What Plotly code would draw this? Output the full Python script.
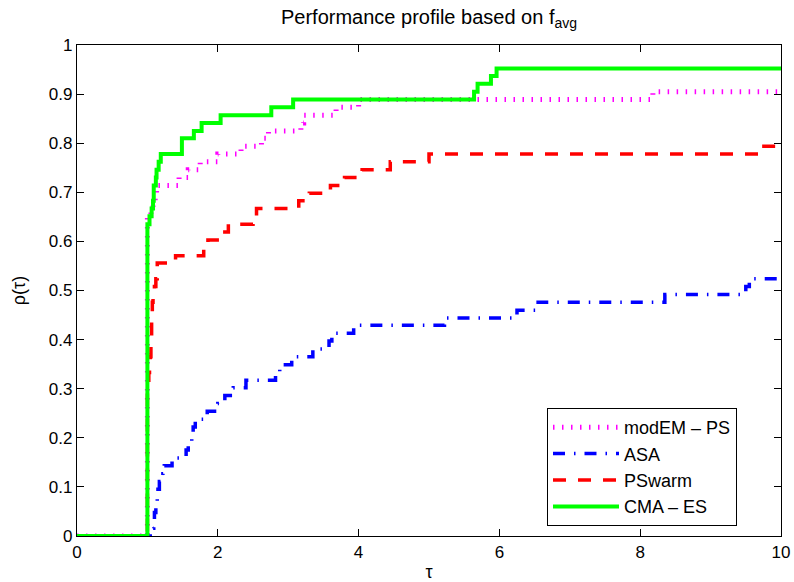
import plotly.graph_objects as go

# ---- data (tau, rho step points) ----
modem_tau = [0, 1.00, 1.05, 1.08, 1.11, 1.13, 1.45, 1.58, 1.75, 2.00, 2.33, 2.62, 2.72,
             3.18, 3.22, 3.68, 4.00, 8.18, 10]
modem_rho = [0, 0.651, 0.667, 0.683, 0.698, 0.714, 0.730, 0.746, 0.762, 0.778, 0.794,
             0.810, 0.825, 0.841, 0.857, 0.873, 0.889, 0.905, 0.905]

asa_tau = [0, 1.04, 1.09, 1.10, 1.12, 1.14, 1.15, 1.17, 1.22, 1.24, 1.35, 1.55, 1.58, 1.63,
           1.65, 1.68, 1.85, 2.00, 2.10, 2.22, 2.40, 2.82, 2.88, 3.05, 3.35, 3.58, 3.62,
           3.93, 5.22, 6.25, 6.55, 8.35, 9.50, 9.55, 10]
asa_rho = [0, 0.016, 0.032, 0.048, 0.063, 0.079, 0.095, 0.111, 0.127, 0.143, 0.159, 0.175,
           0.190, 0.206, 0.222, 0.238, 0.254, 0.270, 0.286, 0.302, 0.317, 0.333, 0.349,
           0.365, 0.381, 0.397, 0.413, 0.429, 0.444, 0.460, 0.476, 0.492, 0.508, 0.524, 0.524]

psw_tau = [0, 1.00, 1.01, 1.02, 1.03, 1.04, 1.05, 1.06, 1.07, 1.08, 1.10, 1.12, 1.14, 1.40,
           1.80, 1.86, 2.10, 2.15, 2.50, 2.55, 3.15, 3.30, 3.60, 3.80, 4.05, 4.45, 5.00,
           9.70, 10]
psw_rho = [0, 0.302, 0.317, 0.333, 0.349, 0.365, 0.397, 0.444, 0.476, 0.492, 0.508, 0.524,
           0.556, 0.571, 0.587, 0.603, 0.619, 0.635, 0.651, 0.667, 0.683, 0.698, 0.714,
           0.730, 0.746, 0.762, 0.778, 0.794, 0.794]

cma_tau = [0, 1.00, 1.03, 1.06, 1.08, 1.09, 1.12, 1.13, 1.16, 1.19, 1.49, 1.66, 1.77, 2.04,
           2.76, 3.07, 5.64, 5.69, 5.88, 5.96, 10]
cma_rho = [0, 0.635, 0.651, 0.667, 0.683, 0.714, 0.730, 0.746, 0.762, 0.778, 0.810, 0.825,
           0.841, 0.857, 0.873, 0.889, 0.905, 0.921, 0.937, 0.952, 0.952]

names = ["modEM \u2013 PS", "ASA", "PSwarm", "CMA \u2013 ES"]
x_ticks = [0, 2, 4, 6, 8, 10]
y_ticks = [0, 0.1, 0.2, 0.3, 0.4, 0.5, 0.6, 0.7, 0.8, 0.9, 1]

FONT = "Liberation Sans"

fig = go.Figure()
fig.add_trace(go.Scatter(x=modem_tau, y=modem_rho, name=names[0], mode="lines",
                         line=dict(color="#ff00ff", width=5, dash="1.5px,7.5px", shape="hv")))
fig.add_trace(go.Scatter(x=asa_tau, y=asa_rho, name=names[1], mode="lines",
                         line=dict(color="#0000ff", width=3.5, dash="12px,9px,1.5px,9px", shape="hv")))
fig.add_trace(go.Scatter(x=psw_tau, y=psw_rho, name=names[2], mode="lines",
                         line=dict(color="#ff0000", width=3.5, dash="13px,12px", shape="hv")))
fig.add_trace(go.Scatter(x=cma_tau, y=cma_rho, name=names[3], mode="lines",
                         line=dict(color="#00ff00", width=4, shape="hv")))

axis_common = dict(showline=True, linecolor="black", linewidth=1.3, mirror="ticks",
                   ticks="inside", ticklen=7, tickwidth=1, tickcolor="black",
                   showgrid=False, zeroline=False,
                   tickfont=dict(family=FONT, size=17, color="black"))

fig.update_xaxes(range=[0, 10], tickvals=x_ticks, **axis_common,
                 title=dict(text="\u03c4", font=dict(family=FONT, size=18, color="black"),
                            standoff=4))
fig.update_yaxes(range=[0, 1], tickvals=y_ticks, ticktext=[f"{v:g}" for v in y_ticks],
                 **axis_common,
                 title=dict(text="\u03c1(\u03c4)", font=dict(family=FONT, size=18, color="black"),
                            standoff=18))

fig.update_layout(
    width=794, height=582,
    margin=dict(l=77, r=13, t=45, b=46, autoexpand=False),
    paper_bgcolor="white", plot_bgcolor="white",
    font=dict(family=FONT, color="black"),
    title=dict(text="Performance profile based on f<sub>avg</sub>",
               font=dict(family=FONT, size=20, color="black"),
               x=(77 + 781) / 2 / 794, xanchor="center",
               y=1 - 17 / 582, yanchor="middle", yref="container"),
    legend=dict(x=(547 - 77) / 704, xanchor="left", y=(536 - 526) / 491, yanchor="bottom",
                bordercolor="black", borderwidth=1, bgcolor="white",
                font=dict(family=FONT, size=18, color="black"),
                itemwidth=66, tracegroupgap=0, entrywidth=210, entrywidthmode="pixels"),
    showlegend=True,
)

fig.write_html("out.html", config={"displayModeBar": False},
               post_script="document.body.style.margin='0';document.body.style.overflow='hidden';")
